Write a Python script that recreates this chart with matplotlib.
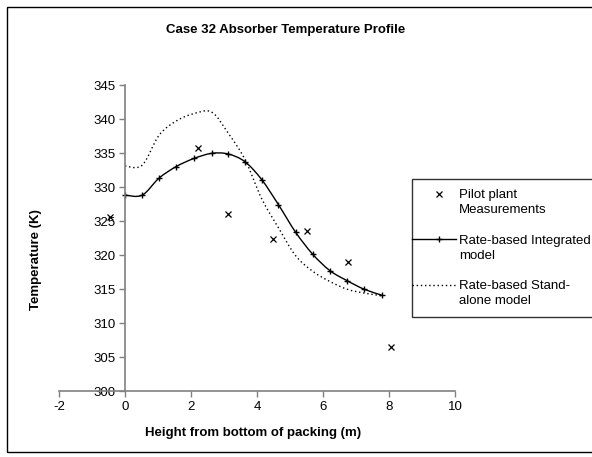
import numpy as np
import matplotlib
matplotlib.use('Agg')
import matplotlib.pyplot as plt
from matplotlib.path import Path
from matplotlib.patches import PathPatch, Rectangle
from matplotlib.lines import Line2D
from matplotlib.legend_handler import HandlerLine2D
from matplotlib.transforms import Affine2D

plt.rcParams['font.family'] = ['Liberation Sans', 'DejaVu Sans']
plt.rcParams['axes.unicode_minus'] = False

# pilot plant measurements
meas_x = [-0.45, 2.20, 3.11, 4.47, 5.53, 6.77, 8.05]
meas_y = [325.6, 335.7, 326.1, 322.3, 323.5, 318.9, 306.5]

# rate-based integrated model
int_x = [0.0, 0.52, 1.03, 1.55, 2.09, 2.63, 3.13, 3.64, 4.14, 4.65, 5.17, 5.69, 6.21, 6.74, 7.25, 7.78]
int_y = [328.8, 328.8, 331.3, 333.0, 334.2, 334.95, 334.85, 333.7, 331.1, 327.4, 323.35, 320.1, 317.7, 316.2, 314.96, 314.1]

# rate-based stand-alone model
sa_x = [0.0, 0.52, 1.03, 1.55, 2.09, 2.63, 3.13, 3.64, 4.14, 4.65, 5.17, 5.69, 6.21, 6.74, 7.25, 7.78]
sa_y = [333.1, 333.2, 337.6, 339.7, 340.8, 341.0, 337.9, 334.0, 328.3, 324.0, 319.9, 317.6, 316.1, 314.95, 314.4, 314.0]

x_ticks = [-2, 0, 2, 4, 6, 8, 10]
y_ticks = [300, 305, 310, 315, 320, 325, 330, 335, 340, 345]

FS = 9.5


def smooth_path(xs, ys):
  # excel style smoothed line (catmull-rom -> bezier)
  pts = np.column_stack([xs, ys])
  n = len(pts)
  verts = [pts[0]]
  codes = [Path.MOVETO]
  for i in range(n - 1):
    p0 = pts[max(i - 1, 0)]
    p1 = pts[i]
    p2 = pts[i + 1]
    p3 = pts[min(i + 2, n - 1)]
    verts += [p1 + (p2 - p0) / 6, p2 - (p3 - p1) / 6, p2]
    codes += [Path.CURVE4] * 3
  return Path(verts, codes)


class FirstLineHandler(HandlerLine2D):
  # excel puts the legend key next to the first text line
  # and lets the key line start at the frame edge
  def create_artists(self, legend, orig_handle, xdescent, ydescent, width, height, fontsize, trans):
    artists = super().create_artists(legend, orig_handle, xdescent, ydescent, width, height, fontsize, trans)
    shift = Affine2D().translate(0, 6.3)
    for a in artists:
      xd = np.asarray(a.get_xdata(), dtype=float).copy()
      if len(xd) > 1:
        xd[0] -= 6.6
        a.set_xdata(xd)
      a.set_transform(shift + trans)
    return artists


W, H = 592, 457
fig = plt.figure(figsize=(W / 100, H / 100), dpi=100)
ax = fig.add_axes([59 / W, 1 - 391 / H, 396 / W, 306 / H])

dots = (0, (1, 2))
ax.add_patch(PathPatch(smooth_path(int_x, int_y), fill=False, lw=1, ec='black'))
ax.add_patch(PathPatch(smooth_path(sa_x, sa_y), fill=False, lw=1, ec='black', ls=dots))
ax.plot(int_x, int_y, ls='none', marker='+', ms=5, mew=1, color='black')
ax.plot(meas_x, meas_y, ls='none', marker='x', ms=4, mew=0.9, color='black')

ax.set_xlim(-2, 10)
ax.set_ylim(300, 345)
ax.set_xticks(x_ticks)
ax.set_yticks(y_ticks)
ax.spines['left'].set_position(('data', 0))
ax.spines['top'].set_visible(False)
ax.spines['right'].set_visible(False)
for s in ['left', 'bottom']:
  ax.spines[s].set_color('#808080')
  ax.spines[s].set_linewidth(1.2)
ax.tick_params(direction='out', length=4, width=1, color='#808080', labelsize=FS, pad=3)

ax.set_xlabel('Height from bottom of packing (m)', fontsize=FS, fontweight='bold')
ax.xaxis.set_label_coords(0.49, -0.118)
ax.set_ylabel('Temperature (K)', fontsize=FS, fontweight='bold')
ax.yaxis.set_label_coords(-0.043, 0.43)

fig.text(166 / W, 1 - 30 / H, 'Case 32 Absorber Temperature Profile',
         ha='left', va='center', fontsize=FS, fontweight='bold')

# chart border
fig.patches.append(Rectangle((7 / W, 1 - 452 / H), 1.2, (452 - 7) / H, transform=fig.transFigure,
                             fill=False, ec='black', lw=1))

handles = [
  Line2D([], [], ls='none', marker='x', ms=4, mew=0.9, color='black'),
  Line2D([], [], lw=1, color='black', marker='+', ms=5, mew=1),
  Line2D([], [], lw=1, color='black', ls=dots),
]
labels = ['Pilot plant\nMeasurements', 'Rate-based Integrated\nmodel', 'Rate-based Stand-\nalone model']
leg = fig.legend(handles, labels, loc='upper left', bbox_to_anchor=(411.7 / W, 1 - 179 / H),
                 bbox_transform=fig.transFigure, fontsize=FS, frameon=True, fancybox=False,
                 borderpad=0.75, borderaxespad=0, handlelength=2.61, handletextpad=0.2,
                 labelspacing=1.4, handler_map={Line2D: FirstLineHandler()})
leg.get_frame().set_edgecolor('black')
leg.get_frame().set_linewidth(1)
for t in leg.get_texts():
  t.set_linespacing(1.35)

plt.savefig('out.png', dpi=100)
